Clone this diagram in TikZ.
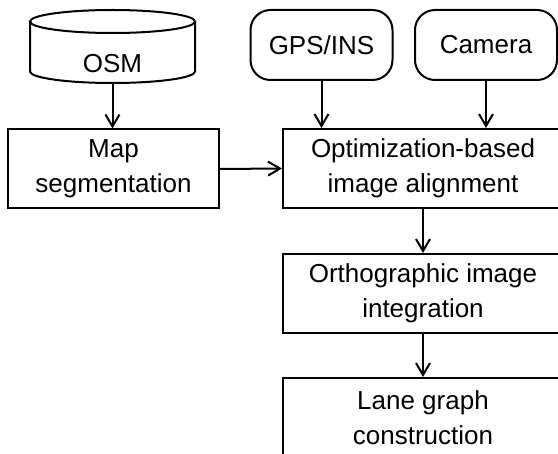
\documentclass[tikz,border=0pt]{standalone}
\usepackage{fontspec}
\setmainfont{Liberation Sans}
\usetikzlibrary{shapes.geometric, positioning, arrows.meta}

\begin{document}
\begin{tikzpicture}[x=0.5pt, y=-0.5pt,
    every node/.style={font=\fontsize{13}{17.5}\selectfont, align=center},
    procbox/.style={draw, line width=1pt, inner sep=0pt},
    srcbox/.style={draw, line width=1pt, rounded corners=10pt, inner sep=0pt,
                   minimum width=71pt, minimum height=35pt},
    flow/.style={line width=1pt, -{Straight Barb[length=6pt, width=7pt]}}]
        \clip (0, 0) rectangle (558, 454);
        % sources
        \draw[line width=1pt] (112.5, 21.5) ellipse [x radius=82.5, y radius=11.5];
        \draw[line width=1pt] (30, 21.5) -- (30, 71.5)
              arc [start angle=180, end angle=0, x radius=82.5, y radius=11.5]
              -- (195, 21.5);
        \node (osm) at (112.5, 64) {OSM};
        \coordinate (osmbase) at (112.5, 83);
        \node[srcbox] (gps) at (321.5, 45) {GPS/INS};
        \node[srcbox] (cam) at (486, 45) {Camera};
        % processing steps
        \node[procbox, minimum width=105.5pt, minimum height=39.5pt]
              (mapseg) at (113.5, 169) {Map\\segmentation};
        \node[procbox, minimum width=140pt, minimum height=39.5pt]
              (align) at (423, 168.5) {Optimization-based\\image alignment};
        \node[procbox, minimum width=140pt, minimum height=39.5pt]
              (ortho) at (423, 293.5) {Orthographic image\\integration};
        \node[procbox, minimum width=140pt, minimum height=39.5pt]
              (lane) at (423, 417.5) {Lane graph\\construction};
        \draw[flow] (osmbase) -- (osmbase |- mapseg.north);
        \draw[flow] (gps.south) -- (gps.south |- align.north);
        \draw[flow] (cam.south) -- (cam.south |- align.north);
        \draw[flow] (mapseg.east) -- (align.west);
        \draw[flow] (align.south) -- (ortho.north);
        \draw[flow] (ortho.south) -- (lane.north);
      \end{tikzpicture}
\end{document}
